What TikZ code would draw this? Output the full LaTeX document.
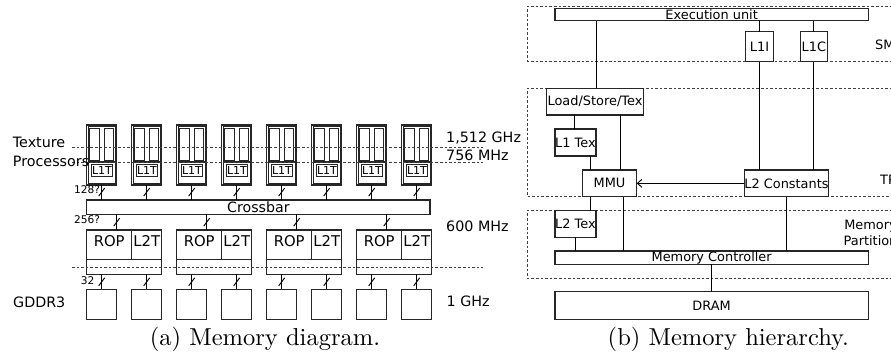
\documentclass[tikz,border=0pt]{standalone}
\usepackage{fontspec}
\newfontfamily\dv{DejaVu Sans}
\usetikzlibrary{calc,arrows.meta}
\newcommand\slashat[1]{\draw[slashln] ($(#1)+(-3,4)$) -- ($(#1)+(3,-4)$);}
\begin{document}
\begin{tikzpicture}[x=1pt,y=-1pt,
  bx/.style={draw=black!85, line width=1.1pt, inner sep=0pt, outer sep=0pt, font=\dv\fontsize{12.9}{14}\selectfont},
  boxln/.style={draw=black!85, line width=1.1pt},
  dsh/.style={draw=black!75, line width=0.9pt, dash pattern=on 2.6pt off 2pt},
  conn/.style={draw=black, line width=0.95pt},
  slashln/.style={draw=black, line width=0.95pt},
  lbl/.style={inner sep=0pt, anchor=base west, font=\dv\fontsize{14.3}{16}\selectfont},
  rlbl/.style={inner sep=0pt, anchor=base west, font=\dv\fontsize{12.9}{14}\selectfont},
  smalllbl/.style={inner sep=0pt, anchor=base west, font=\dv\fontsize{10.6}{12}\selectfont},
  rtext/.style={font=\dv\fontsize{14.8}{16}\selectfont, text depth=6.5pt},
  captxt/.style={inner sep=0pt, anchor=base, font=\fontsize{10}{12}\selectfont, scale=2.45},
]
\useasboundingbox (0,0) rectangle (891,355);

% ---------- (a) Memory diagram ----------
\foreach \i in {0,...,7}{
  \pgfmathsetmacro\xa{86.7+45*\i}
  \node[bx, minimum width=30pt, minimum height=60pt] (tp\i) at (\xa+15,155) {};
  \node[bx, minimum width=27.2pt, minimum height=56.6pt] (tpin\i) at (\xa+15,155) {};
  \node[bx, minimum width=9.4pt, minimum height=32.4pt] (tpa\i) at (\xa+7.8,144.5) {};
  \node[bx, minimum width=9.4pt, minimum height=32.4pt] (tpb\i) at (\xa+22.2,144.5) {};
  \draw[boxln] (\xa+1.4,162) -- (\xa+28.6,162);
  \node[bx, minimum width=20.6pt, minimum height=12.4pt, font=\dv\fontsize{11}{12}\selectfont] (l1t\i) at (\xa+15.3,170.5) {L1T};
  \node[bx, minimum width=30pt, minimum height=30pt] (dr\i) at (\xa+15,304.3) {};
}
\node[bx, minimum width=343.3pt, minimum height=14.3pt, font=\dv\fontsize{14.2}{16}\selectfont] (xbar) at (258.35,207.15) {Crossbar};

\foreach \j in {0,...,3}{
  \pgfmathsetmacro\xg{86.7+90*\j}
  \node[bx, minimum width=45pt, minimum height=29.3pt, rtext] (rop\j) at (\xg+22.5,244.65) {ROP};
  \node[bx, minimum width=30pt, minimum height=29.3pt, rtext] (l2t\j) at (\xg+60,244.65) {L2T};
  \node[bx, minimum width=75pt, minimum height=15pt] (rs\j) at (\xg+37.5,266.8) {};
  \coordinate (rin\j) at (\xg+30,230);
  \draw[conn] (rin\j |- xbar.south) -- coordinate[pos=0.5] (sb\j) (rop\j.north -| rin\j);
  \slashat{sb\j}
}
\foreach \i in {0,...,7}{
  \draw[conn] (tp\i.south) -- coordinate[pos=0.47] (sa\i) (tp\i.south |- xbar.north);
  \slashat{sa\i}
  \draw[conn] (dr\i.north |- rs0.south) -- coordinate[pos=0.5] (sc\i) (dr\i.north);
  \slashat{sc\i}
}

\draw[dsh] (72,147.7) -- (483,147.7);
\draw[dsh] (72,162.3) -- (483,162.3);
\draw[dsh] (72,267) -- (483,267);

\node[lbl] (ltex) at (12.7,147.3) {Texture};
\node[lbl] (lproc) at (12.7,167) {Processors};
\node[lbl] (lgddr) at (13,307.3) {GDDR3};
\node[lbl] (lf1) at (446,142.7) {1,512 GHz};
\node[lbl] (lf2) at (446,160.7) {756 MHz};
\node[lbl] (lf3) at (446,231.7) {600 MHz};
\node[lbl] (lf4) at (446.5,306) {1 GHz};
\node[smalllbl] (w128) at (74,194) {128?};
\node[smalllbl] (w256) at (74,224) {256?};
\node[smalllbl] (w32) at (80.7,284) {32};

\node[captxt] (capa) at (265,345) {(a) Memory diagram.};

% ---------- (b) Memory hierarchy ----------
\draw[dsh] (920,6.5) -- (527.3,6.5) -- (527.3,61) -- (920,61);
\draw[dsh] (920,88.3) -- (527.3,88.3) -- (527.3,196.7) -- (920,196.7);
\draw[dsh] (920,210.5) -- (527.3,210.5) -- (527.3,278.3) -- (920,278.3);

\node[bx, minimum width=313.3pt, minimum height=12.4pt] (exec) at (711.65,14.5) {Execution unit};
\node[bx, minimum width=27.6pt, minimum height=30pt] (l1i) at (759.5,46.7) {L1I};
\node[bx, minimum width=27.6pt, minimum height=30pt] (l1c) at (813.85,46.7) {L1C};
\node[bx, minimum width=96.6pt, minimum height=26.7pt] (lst) at (595,101.65) {Load/Store/Tex};
\node[bx, minimum width=41pt, minimum height=27pt] (l1tex) at (575.5,142.5) {L1 Tex};
\node[bx, minimum width=54.4pt, minimum height=26.7pt] (mmu) at (609.5,183.35) {MMU};
\node[bx, minimum width=81.6pt, minimum height=26.7pt] (l2c) at (786.5,183.35) {L2 Constants};
\node[bx, minimum width=41pt, minimum height=26.6pt] (l2tex) at (575.5,224) {L2 Tex};
\node[bx, minimum width=313.3pt, minimum height=13.3pt] (memctrl) at (711.65,257.65) {Memory Controller};
\node[bx, minimum width=313.3pt, minimum height=27.6pt] (dram) at (711.65,305.5) {DRAM};

\draw[conn] (exec.south -| 596,0) -- (lst.north -| 596,0);
\draw[conn] (l1i.north |- exec.south) -- (l1i.north);
\draw[conn] (l1c.north |- exec.south) -- (l1c.north);
\draw[conn] (lst.south -| 574.3,0) -- (l1tex.north -| 574.3,0);
\draw[conn] (lst.south -| 620.7,0) -- (mmu.north -| 620.7,0);
\draw[conn] (l1tex.south -| 590.7,0) -- (mmu.north -| 590.7,0);
\draw[conn] (l1i.south) -- (l2c.north -| l1i.south);
\draw[conn] (l1c.south) -- (l2c.north -| l1c.south);
\draw[conn, -{Straight Barb[length=4.5pt,width=8pt]}] (l2c.west) -- (mmu.east);
\draw[conn] (mmu.south -| 590.7,0) -- (l2tex.north -| 590.7,0);
\draw[conn] (mmu.south -| 623.3,0) -- (memctrl.north -| 623.3,0);
\draw[conn] (l2tex.south) -- (memctrl.north -| l2tex.south);
\draw[conn] (l2c.south) -- (memctrl.north -| l2c.south);
\draw[conn] (memctrl.south) -- (dram.north);

\node[rlbl] (lsm) at (875,49.5) {SM};
\node[rlbl] (ltp) at (880,185) {TP};
\node[rlbl, anchor=base] (lmem) at (870.5,229.3) {Memory};
\node[rlbl, anchor=base] (lpart) at (870.5,246) {Partition};

\node[captxt] (capb) at (728.3,345) {(b) Memory hierarchy.};
\end{tikzpicture}
\end{document}
